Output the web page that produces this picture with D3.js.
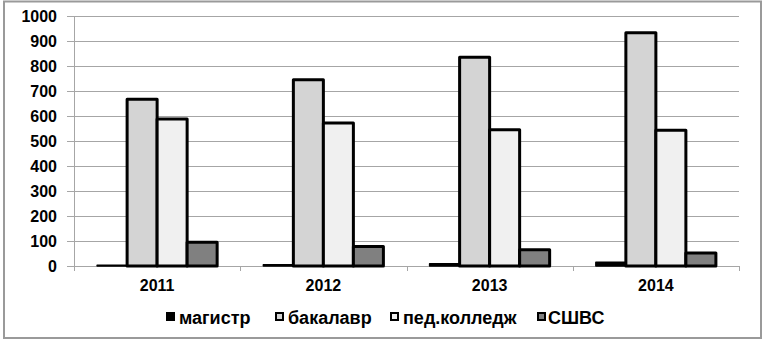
<!DOCTYPE html>
<html>
<head>
<meta charset="utf-8">
<script src="https://cdn.jsdelivr.net/npm/d3@7"></script>
<style>
  body { margin: 0; background: #fff; }
  text { font-family: "Liberation Sans", Arial, sans-serif; font-weight: bold; fill: #000; }
  .legend text { font-family: "Liberation Sans Narrow", "Arial Narrow", sans-serif; }
</style>
</head>
<body>
<div id="chart"></div>
<script>
// chart data
const years = ["2011", "2012", "2013", "2014"];
const series = ["магистр", "бакалавр", "пед.колледж", "СШВС"];
const magistr = [3, 5, 9, 15];
const bakalavr = [667, 745, 835, 933];
const pedCollege = [588, 572, 545, 543];
const sshvs = [95, 78, 65, 52];
const yTicks = [0, 100, 200, 300, 400, 500, 600, 700, 800, 900, 1000];

const values = [magistr, bakalavr, pedCollege, sshvs];
const fills = ["#000000", "#d4d4d4", "#f0f0f0", "#808080"];

const width = 768, height = 344;

const svg = d3.select("#chart")
    .append("svg")
    .attr("width", width)
    .attr("height", height);

// outer frame
svg.append("rect")
    .attr("x", 4).attr("y", 1.5)
    .attr("width", 757).attr("height", 336.5)
    .attr("fill", "none")
    .attr("stroke", "#9a9a9a")
    .attr("stroke-width", 2);

const y = d3.scaleLinear().domain([0, 1000]).range([266, 16]);
const x0 = d3.scaleBand().domain(years).range([74, 739]);
const x1 = d3.scaleBand().domain(series).range([0, x0.bandwidth()]).paddingOuter(0.77);

// gridlines
svg.append("g")
    .selectAll("line")
    .data(yTicks)
    .enter()
    .append("line")
    .attr("x1", 67).attr("x2", 739)
    .attr("y1", d => Math.round(y(d)) + 0.5)
    .attr("y2", d => Math.round(y(d)) + 0.5)
    .attr("stroke", "#a6a6a6")
    .attr("stroke-width", 1.2);

// y axis line
svg.append("line")
    .attr("x1", 74.5).attr("x2", 74.5)
    .attr("y1", y(1000)).attr("y2", y(0))
    .attr("stroke", "#a6a6a6");

// y labels
svg.append("g")
    .selectAll("text")
    .data(yTicks)
    .enter()
    .append("text")
    .attr("x", 57)
    .attr("y", d => y(d))
    .attr("dy", "0.36em")
    .attr("text-anchor", "end")
    .style("font-size", "16px")
    .text(d => d);

// x ticks at band edges
const edges = years.map(d => x0(d)).concat([x0.range()[1]]);
svg.append("g")
    .selectAll("line")
    .data(edges)
    .enter()
    .append("line")
    .attr("x1", d => Math.round(d) + 0.5).attr("x2", d => Math.round(d) + 0.5)
    .attr("y1", y(0)).attr("y2", y(0) + 5)
    .attr("stroke", "#a6a6a6");

// bars
const groups = svg.selectAll(".year")
    .data(years)
    .enter()
    .append("g")
    .attr("class", "year")
    .attr("transform", d => `translate(${x0(d)},0)`);

groups.each(function(yr, i) {
    const g = d3.select(this);
    series.forEach((s, j) => {
        const v = values[j][i];
        g.append("rect")
            .attr("x", x1(s))
            .attr("y", y(v))
            .attr("width", x1.bandwidth())
            .attr("height", y(0) - y(v))
            .attr("fill", fills[j])
            .attr("stroke", "#000")
            .attr("stroke-width", j === 0 ? 1.5 : 3)
            .attr("stroke-linejoin", "round");
    });
    g.append("text")
        .attr("x", x0.bandwidth() / 2)
        .attr("y", 291)
        .attr("text-anchor", "middle")
        .style("font-size", "16px")
        .text(yr);
});

// legend
const legendX = [167, 276, 391, 538];
const legend = svg.append("g").attr("class", "legend");
series.forEach((s, j) => {
    legend.append("rect")
        .attr("x", legendX[j])
        .attr("y", 313)
        .attr("width", 7).attr("height", 7)
        .attr("fill", fills[j])
        .attr("stroke", "#000")
        .attr("stroke-width", 2);
    legend.append("text")
        .attr("x", legendX[j] + (j === 3 ? 10 : 12))
        .attr("y", 324)
        .style("font-size", "18px")
        .text(s);
});
</script>
</body>
</html>
